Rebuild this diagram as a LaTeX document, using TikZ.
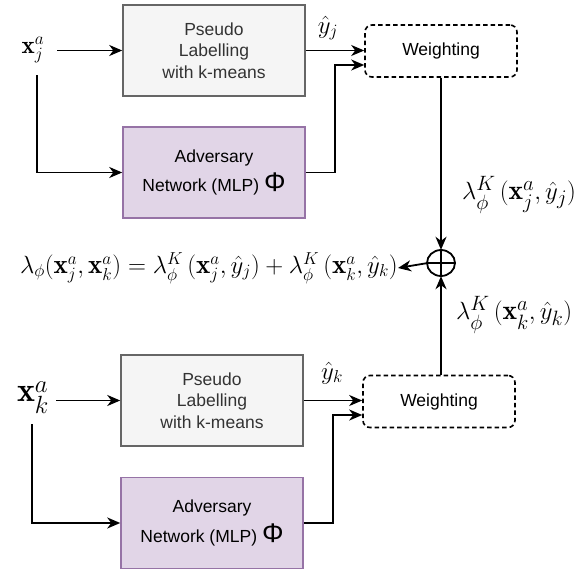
\documentclass[tikz,border=0pt]{standalone}
\usepackage{amsmath}
\usepackage{fontspec}
\setsansfont{Liberation Sans}
\newfontfamily\phifont{Liberation Sans}
\usetikzlibrary{arrows.meta,calc}
\definecolor{pfill}{HTML}{F5F5F5}
\definecolor{pdraw}{HTML}{666666}
\definecolor{ptext}{HTML}{333333}
\definecolor{afill}{HTML}{E1D5E7}
\definecolor{adraw}{HTML}{9673A6}
\tikzset{
  boxtext/.style={font=\sffamily\fontsize{17.5}{21.5}\selectfont, align=center},
  pseudobox/.style={boxtext, draw=pdraw, fill=pfill, text=ptext, line width=1.5pt,
    minimum width=182pt, minimum height=91pt, inner sep=0pt},
  advbox/.style={boxtext, draw=adraw, fill=afill, text=black, line width=1.5pt,
    minimum width=182pt, minimum height=91pt, inner sep=0pt},
  weightbox/.style={boxtext, draw=black, dashed, dash pattern=on 4.5pt off 3pt, rounded corners=7pt,
    line width=1.6pt, minimum width=152pt, minimum height=52pt, inner sep=0pt},
  mathlbl/.style={font=\fontsize{27.5}{30}\selectfont, inner sep=0pt},
  arr/.style={line width=1.8pt, -{Stealth[length=13pt,width=11pt,inset=4pt]}},
  wire/.style={line width=1.8pt}
}
\begin{document}
\begin{tikzpicture}[x=1pt,y=-1pt]
\useasboundingbox (0,0) rectangle (581,573);
% top branch
\node[pseudobox] (P1) at (214,50.5) {Pseudo\\Labelling\\with k-means};
\node[advbox] (A1) at (214,172.5) {Adversary\\[6pt]Network (MLP) {\phifont\fontsize{27}{27}\selectfont Φ}};
\node[weightbox] (W1) at (441,51) {Weighting};
\node[mathlbl, font=\fontsize{25}{28}\selectfont] (xj) at (33,50) {$\mathbf{x}^a_j$};
\node[mathlbl, font=\fontsize{24}{28}\selectfont] (yj) at (328,28) {$\hat{y}_j$};
% bottom branch
\node[pseudobox] (P2) at (212,400.5) {Pseudo\\Labelling\\with k-means};
\node[advbox] (A2) at (212,523) {Adversary\\[6pt]Network (MLP) {\phifont\fontsize{27}{27}\selectfont Φ}};
\node[weightbox] (W2) at (439,401.5) {Weighting};
\node[mathlbl, font=\fontsize{34}{36}\selectfont] (xk) at (33,398) {$\mathbf{x}^a_k$};
\node[mathlbl, font=\fontsize{24}{28}\selectfont] (yk) at (332,373) {$\hat{y}_k$};
% sum
\draw[wire] (441,263) ellipse [x radius=14pt, y radius=13pt];
\node[circle, minimum size=26pt, inner sep=0pt] (S) at (441,263) {};
\draw[wire] (S.west) -- (S.east) (S.north) -- (S.south);
\node[mathlbl, font=\fontsize{27}{30}\selectfont, anchor=east] (eq) at (398,268) {$\lambda_\phi(\mathbf{x}^a_j,\mathbf{x}^a_k)=\lambda^K_\phi\,(\mathbf{x}^a_j,\hat{y}_j)+\lambda^K_\phi\,(\mathbf{x}^a_k,\hat{y}_k)$};
\node[mathlbl, anchor=west] (lj) at (462,195) {$\lambda^K_\phi\,(\mathbf{x}^a_j,\hat{y}_j)$};
\node[mathlbl, anchor=west] (lk) at (456,315) {$\lambda^K_\phi\,(\mathbf{x}^a_k,\hat{y}_k)$};
% top connectors
\coordinate (j0) at (37,75);
\coordinate (j1) at (335,65);
\draw[arr] (57,0 |- P1.west) -- (P1.west);
\draw[arr] (j0) |- (A1.west);
\draw[arr] (P1.east) -- (W1.west |- P1.east);
\draw[arr] (A1.east) -| (j1) -- (W1.west |- j1);
\draw[arr] (W1.south -| S) -- (S.north);
% bottom connectors
\coordinate (k0) at (32,424);
\coordinate (k1) at (333,415);
\draw[arr] (56,0 |- P2.west) -- (P2.west);
\draw[arr] (k0) |- (A2.west);
\draw[arr] (P2.east) -- (W2.west |- P2.east);
\draw[arr] (A2.east) -| (k1) -- (W2.west |- k1);
\draw[arr] (W2.north -| S) -- (S.south);
% output
\draw[arr] (S.west) -- (eq.east);
\end{tikzpicture}
\end{document}
